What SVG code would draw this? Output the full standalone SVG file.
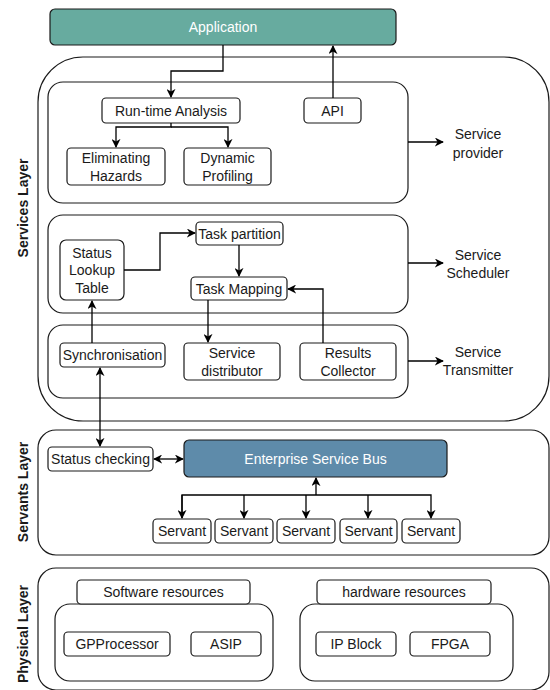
<svg xmlns="http://www.w3.org/2000/svg" width="550" height="690" viewBox="0 0 550 690">
  <defs>
    <marker id="arr" viewBox="0 0 10 10" refX="9" refY="5" markerWidth="9" markerHeight="9" markerUnits="userSpaceOnUse" orient="auto-start-reverse">
      <path d="M0,0 L10,5 L0,10 L3,5 Z" fill="#000"/>
    </marker>
    <style>
      .box { fill: #fff; stroke: #1a1a1a; stroke-width: 1.2; }
      .panel { fill: #fff; stroke: #1a1a1a; stroke-width: 1.2; }
      .t { font-family: "Liberation Sans", Arial, sans-serif; font-size: 14px; fill: #1a1a1a; text-anchor: middle; dominant-baseline: central; }
      .w { fill: #fff; }
      .lbl { font-family: "Liberation Sans", Arial, sans-serif; font-size: 14px; font-weight: bold; fill: #1a1a1a; text-anchor: middle; dominant-baseline: central; }
      .ln { fill: none; stroke: #000; stroke-width: 1.3; }
    </style>
  </defs>
  <rect width="550" height="690" fill="#fff"/>

  <!-- layer frames -->
  <g id="services-layer">
    <rect class="panel" x="38" y="57" width="511" height="364" rx="45"/>
    <text class="lbl" transform="translate(23,208) rotate(-90)">Services Layer</text>
  </g>
  <g id="servants-layer">
    <rect class="panel" x="38" y="430" width="511" height="125" rx="18"/>
    <text class="lbl" transform="translate(23,492) rotate(-90)">Servants Layer</text>
  </g>
  <g id="physical-layer">
    <rect class="panel" x="38" y="568" width="511" height="122" rx="18"/>
    <text class="lbl" transform="translate(23,634) rotate(-90)">Physical Layer</text>
  </g>

  <!-- application -->
  <g id="application">
    <rect x="50" y="9" width="346" height="36" rx="5" fill="#67AB9F" stroke="#1a1a1a" stroke-width="1.2"/>
    <text class="t w" x="223" y="27">Application</text>
  </g>

  <!-- service panels -->
  <g id="service-provider">
    <rect class="panel" x="48" y="82" width="360" height="121" rx="15"/>
  </g>
  <g id="service-scheduler">
    <rect class="panel" x="48" y="215" width="360" height="98" rx="15"/>
  </g>
  <g id="service-transmitter">
    <rect class="panel" x="48" y="325" width="360" height="73" rx="15"/>
  </g>

  <g id="runtime-analysis">
    <rect class="box" x="102" y="98" width="138" height="25" rx="4"/>
    <text class="t" x="171" y="110.5">Run-time Analysis</text>
  </g>
  <g id="api">
    <rect class="box" x="304" y="98" width="57" height="25" rx="4"/>
    <text class="t" x="332.5" y="110.5">API</text>
  </g>
  <g id="eliminating-hazards">
    <rect class="box" x="67" y="148" width="98" height="37" rx="4"/>
    <text class="t" x="116" y="157.5">Eliminating</text>
    <text class="t" x="116" y="175.5">Hazards</text>
  </g>
  <g id="dynamic-profiling">
    <rect class="box" x="184" y="148" width="87" height="37" rx="4"/>
    <text class="t" x="227.5" y="157.5">Dynamic</text>
    <text class="t" x="227.5" y="175.5">Profiling</text>
  </g>
  <g id="service-provider-label">
    <text class="t" x="478" y="134">Service</text>
    <text class="t" x="478" y="153">provider</text>
  </g>

  <g id="status-lookup-table">
    <rect class="box" x="60" y="240" width="64" height="60" rx="6"/>
    <text class="t" x="92" y="253">Status</text>
    <text class="t" x="92" y="270">Lookup</text>
    <text class="t" x="92" y="288">Table</text>
  </g>
  <g id="task-partition">
    <rect class="box" x="196" y="222" width="87" height="23" rx="4"/>
    <text class="t" x="239.5" y="233.5">Task partition</text>
  </g>
  <g id="task-mapping">
    <rect class="box" x="191" y="277" width="96" height="23" rx="4"/>
    <text class="t" x="239" y="288.5">Task Mapping</text>
  </g>
  <g id="service-scheduler-label">
    <text class="t" x="478" y="255">Service</text>
    <text class="t" x="478" y="273">Scheduler</text>
  </g>

  <g id="synchronisation">
    <rect class="box" x="60" y="343" width="105" height="24" rx="4"/>
    <text class="t" x="112.5" y="355">Synchronisation</text>
  </g>
  <g id="service-distributor">
    <rect class="box" x="184" y="343" width="96" height="37" rx="4"/>
    <text class="t" x="232" y="352.5">Service</text>
    <text class="t" x="232" y="370.5">distributor</text>
  </g>
  <g id="results-collector">
    <rect class="box" x="300" y="343" width="96" height="37" rx="4"/>
    <text class="t" x="348" y="352.5">Results</text>
    <text class="t" x="348" y="370.5">Collector</text>
  </g>
  <g id="service-transmitter-label">
    <text class="t" x="478" y="352">Service</text>
    <text class="t" x="478" y="370">Transmitter</text>
  </g>

  <!-- servants layer nodes -->
  <g id="status-checking">
    <rect class="box" x="48" y="447" width="105" height="24" rx="4"/>
    <text class="t" x="100.5" y="459">Status checking</text>
  </g>
  <g id="enterprise-service-bus">
    <rect x="184" y="440" width="263" height="37" rx="5" fill="#5E8BAA" stroke="#1a1a1a" stroke-width="1.2"/>
    <text class="t w" x="315.5" y="458.5">Enterprise Service Bus</text>
  </g>
  <g id="servant-1">
    <rect class="box" x="153" y="519" width="58" height="24" rx="4"/>
    <text class="t" x="182" y="531">Servant</text>
  </g>
  <g id="servant-2">
    <rect class="box" x="215" y="519" width="58" height="24" rx="4"/>
    <text class="t" x="244" y="531">Servant</text>
  </g>
  <g id="servant-3">
    <rect class="box" x="277" y="519" width="58" height="24" rx="4"/>
    <text class="t" x="306" y="531">Servant</text>
  </g>
  <g id="servant-4">
    <rect class="box" x="340" y="519" width="57" height="24" rx="4"/>
    <text class="t" x="368.5" y="531">Servant</text>
  </g>
  <g id="servant-5">
    <rect class="box" x="402" y="519" width="58" height="24" rx="4"/>
    <text class="t" x="431" y="531">Servant</text>
  </g>

  <!-- physical layer nodes -->
  <g id="software-panel">
    <rect class="panel" x="55" y="604" width="218" height="77" rx="15"/>
  </g>
  <g id="software-resources">
    <rect class="box" x="77" y="580" width="173" height="24" rx="4"/>
    <text class="t" x="163.5" y="592">Software resources</text>
  </g>
  <g id="gpprocessor">
    <rect class="box" x="64" y="632" width="106" height="24" rx="4"/>
    <text class="t" x="117" y="644">GPProcessor</text>
  </g>
  <g id="asip">
    <rect class="box" x="191" y="632" width="70" height="24" rx="4"/>
    <text class="t" x="226" y="644">ASIP</text>
  </g>
  <g id="hardware-panel">
    <rect class="panel" x="300" y="604" width="213" height="77" rx="15"/>
  </g>
  <g id="hardware-resources">
    <rect class="box" x="317" y="580" width="174" height="24" rx="4"/>
    <text class="t" x="404" y="592">hardware resources</text>
  </g>
  <g id="ip-block">
    <rect class="box" x="316" y="632" width="80" height="24" rx="4"/>
    <text class="t" x="356" y="644">IP Block</text>
  </g>
  <g id="fpga">
    <rect class="box" x="410" y="632" width="80" height="24" rx="4"/>
    <text class="t" x="450" y="644">FPGA</text>
  </g>

  <!-- connectors -->
  <g id="connectors" class="ln">
    <path class="ln" d="M223,45 V71 H171 V97" marker-end="url(#arr)"/>
    <path class="ln" d="M333,98 V46" marker-end="url(#arr)"/>
    <path class="ln" d="M171,123 V127 H116 V147" marker-end="url(#arr)"/>
    <path class="ln" d="M171,127 H228 V147" marker-end="url(#arr)"/>
    <path class="ln" d="M408,142 H443" marker-end="url(#arr)"/>
    <path class="ln" d="M124,270 H160 V233 H195" marker-end="url(#arr)"/>
    <path class="ln" d="M239,245 V276" marker-end="url(#arr)"/>
    <path class="ln" d="M323,343 V289 H288" marker-end="url(#arr)"/>
    <path class="ln" d="M208,300 V342" marker-end="url(#arr)"/>
    <path class="ln" d="M92,343 V301" marker-end="url(#arr)"/>
    <path class="ln" d="M408,263 H443" marker-end="url(#arr)"/>
    <path class="ln" d="M408,361 H443" marker-end="url(#arr)"/>
    <path class="ln" d="M100,368 V446" marker-start="url(#arr)" marker-end="url(#arr)"/>
    <path class="ln" d="M154,459 H183" marker-start="url(#arr)" marker-end="url(#arr)"/>
    <path class="ln" d="M316,495 V478" marker-end="url(#arr)"/>
    <path class="ln" d="M182,518 V495 H431 V518" marker-end="url(#arr)"/>
    <path class="ln" d="M182,495 V518" marker-end="url(#arr)"/>
    <path class="ln" d="M244,495 V518" marker-end="url(#arr)"/>
    <path class="ln" d="M306,495 V518" marker-end="url(#arr)"/>
    <path class="ln" d="M368,495 V518" marker-end="url(#arr)"/>
  </g>
</svg>
